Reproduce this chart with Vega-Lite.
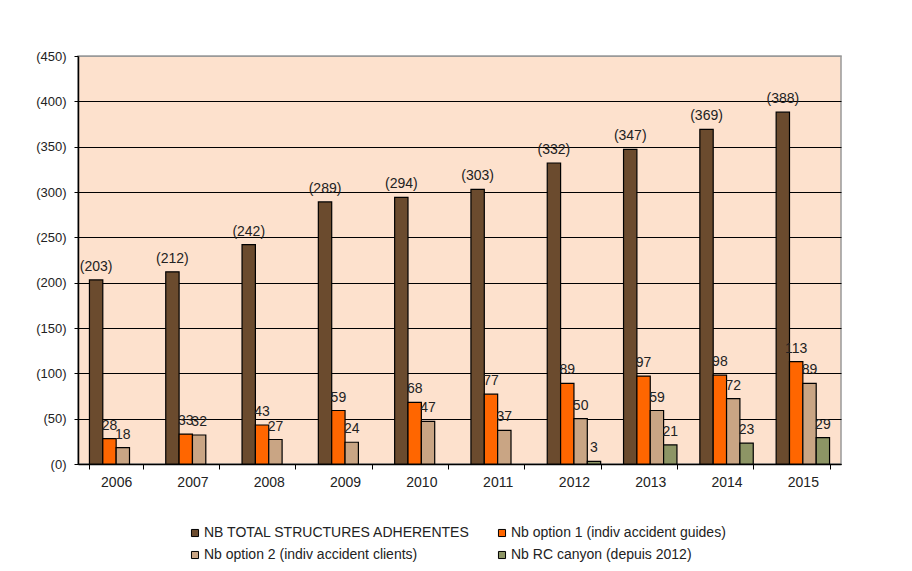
{
  "$schema": "https://vega.github.io/schema/vega-lite/v6.json",
  "autosize": "none",
  "width": 763,
  "height": 408,
  "padding": {"left": 78, "top": 56, "right": 71, "bottom": 107},
  "background": "white",
  "config": {
    "font": "Liberation Sans",
    "view": {"fill": "#FDE1CD", "stroke": "#999999", "strokeWidth": 1.5}
  },
  "data": {
    "values": [
      {"year": "2006", "series": "NB TOTAL STRUCTURES ADHERENTES", "value": 203},
      {"year": "2007", "series": "NB TOTAL STRUCTURES ADHERENTES", "value": 212},
      {"year": "2008", "series": "NB TOTAL STRUCTURES ADHERENTES", "value": 242},
      {"year": "2009", "series": "NB TOTAL STRUCTURES ADHERENTES", "value": 289},
      {"year": "2010", "series": "NB TOTAL STRUCTURES ADHERENTES", "value": 294},
      {"year": "2011", "series": "NB TOTAL STRUCTURES ADHERENTES", "value": 303},
      {"year": "2012", "series": "NB TOTAL STRUCTURES ADHERENTES", "value": 332},
      {"year": "2013", "series": "NB TOTAL STRUCTURES ADHERENTES", "value": 347},
      {"year": "2014", "series": "NB TOTAL STRUCTURES ADHERENTES", "value": 369},
      {"year": "2015", "series": "NB TOTAL STRUCTURES ADHERENTES", "value": 388},
      {"year": "2006", "series": "Nb option 1 (indiv accident guides)", "value": 28},
      {"year": "2007", "series": "Nb option 1 (indiv accident guides)", "value": 33},
      {"year": "2008", "series": "Nb option 1 (indiv accident guides)", "value": 43},
      {"year": "2009", "series": "Nb option 1 (indiv accident guides)", "value": 59},
      {"year": "2010", "series": "Nb option 1 (indiv accident guides)", "value": 68},
      {"year": "2011", "series": "Nb option 1 (indiv accident guides)", "value": 77},
      {"year": "2012", "series": "Nb option 1 (indiv accident guides)", "value": 89},
      {"year": "2013", "series": "Nb option 1 (indiv accident guides)", "value": 97},
      {"year": "2014", "series": "Nb option 1 (indiv accident guides)", "value": 98},
      {"year": "2015", "series": "Nb option 1 (indiv accident guides)", "value": 113},
      {"year": "2006", "series": "Nb option 2 (indiv accident clients)", "value": 18},
      {"year": "2007", "series": "Nb option 2 (indiv accident clients)", "value": 32},
      {"year": "2008", "series": "Nb option 2 (indiv accident clients)", "value": 27},
      {"year": "2009", "series": "Nb option 2 (indiv accident clients)", "value": 24},
      {"year": "2010", "series": "Nb option 2 (indiv accident clients)", "value": 47},
      {"year": "2011", "series": "Nb option 2 (indiv accident clients)", "value": 37},
      {"year": "2012", "series": "Nb option 2 (indiv accident clients)", "value": 50},
      {"year": "2013", "series": "Nb option 2 (indiv accident clients)", "value": 59},
      {"year": "2014", "series": "Nb option 2 (indiv accident clients)", "value": 72},
      {"year": "2015", "series": "Nb option 2 (indiv accident clients)", "value": 89},
      {"year": "2012", "series": "Nb RC canyon (depuis 2012)", "value": 3},
      {"year": "2013", "series": "Nb RC canyon (depuis 2012)", "value": 21},
      {"year": "2014", "series": "Nb RC canyon (depuis 2012)", "value": 23},
      {"year": "2015", "series": "Nb RC canyon (depuis 2012)", "value": 29}
    ]
  },
  "transform": [
    {"calculate": "datum.series == 'NB TOTAL STRUCTURES ADHERENTES' ? '(' + datum.value + ')' : '' + datum.value", "as": "label"}
  ],
  "encoding": {
    "x": {
      "field": "year",
      "type": "nominal",
      "scale": {"paddingInner": 0.3, "paddingOuter": 0.15},
      "axis": {
        "title": null,
        "labelAngle": 0,
        "labelFontSize": 14,
        "labelColor": "#222222",
        "labelPadding": 6,
        "tickBand": "extent",
        "tickColor": "#000000",
        "tickSize": 5,
        "domainColor": "#000000",
        "domainWidth": 1.5,
        "grid": false
      }
    },
    "xOffset": {
      "field": "series",
      "type": "nominal",
      "sort": ["NB TOTAL STRUCTURES ADHERENTES", "Nb option 1 (indiv accident guides)", "Nb option 2 (indiv accident clients)", "Nb RC canyon (depuis 2012)"],
      "scale": {"paddingInner": 0, "paddingOuter": 0}
    },
    "y": {
      "field": "value",
      "type": "quantitative",
      "scale": {"domain": [0, 450], "nice": false},
      "axis": {
        "title": null,
        "values": [0, 50, 100, 150, 200, 250, 300, 350, 400, 450],
        "labelExpr": "'(' + datum.value + ')'",
        "labelFontSize": 13,
        "labelColor": "#222222",
        "labelPadding": 8,
        "tickColor": "#000000",
        "tickSize": 4,
        "domainColor": "#000000",
        "domainWidth": 1.5,
        "gridColor": {"condition": {"test": "datum.value == 450", "value": "#999999"}, "value": "#000000"},
        "gridWidth": 1.2,
        "gridOpacity": 1
      }
    }
  },
  "layer": [
    {
      "mark": {"type": "bar", "stroke": "#000000", "strokeWidth": 1.2},
      "encoding": {
        "color": {
          "field": "series",
          "type": "nominal",
          "sort": ["NB TOTAL STRUCTURES ADHERENTES", "Nb option 1 (indiv accident guides)", "Nb option 2 (indiv accident clients)", "Nb RC canyon (depuis 2012)"],
          "scale": {
            "domain": ["NB TOTAL STRUCTURES ADHERENTES", "Nb option 1 (indiv accident guides)", "Nb option 2 (indiv accident clients)", "Nb RC canyon (depuis 2012)"],
            "range": ["#6B4B2E", "#FF6600", "#C9A584", "#8D9565"]
          },
          "legend": {
            "title": null,
            "orient": "none",
            "legendX": 110,
            "legendY": 470,
            "direction": "horizontal",
            "columns": 2,
            "columnPadding": 24,
            "rowPadding": 8,
            "symbolType": "square",
            "symbolSize": 50,
            "symbolStrokeColor": "#000000",
            "symbolStrokeWidth": 1,
            "symbolOpacity": 1,
            "labelFontSize": 14,
            "labelColor": "#222222",
            "labelOffset": 2,
            "labelLimit": 400
          }
        }
      }
    },
    {
      "mark": {"type": "text", "baseline": "bottom", "dy": -6, "fontSize": 14, "color": "#222222"},
      "encoding": {
        "text": {"field": "label", "type": "nominal"}
      }
    }
  ]
}
